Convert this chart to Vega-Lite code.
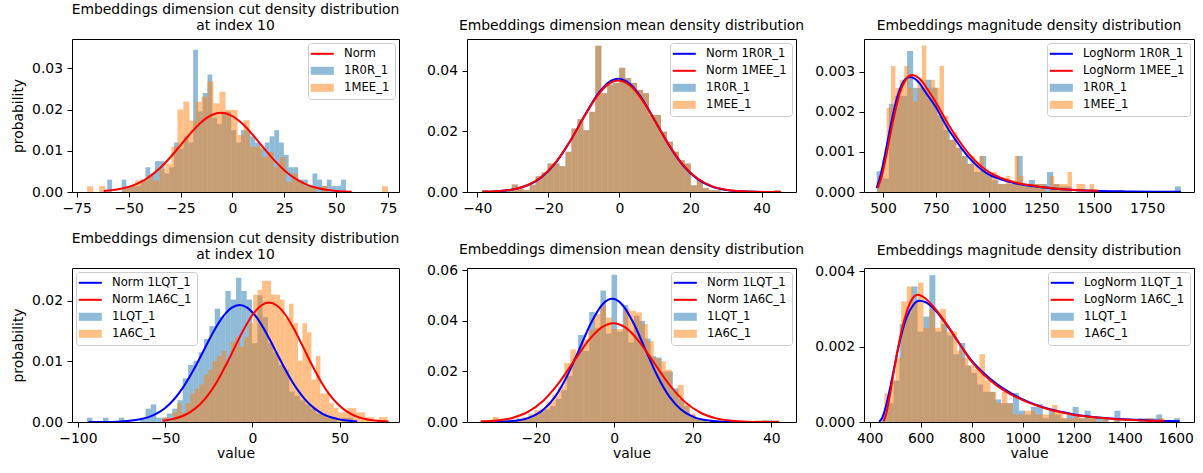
{
"$schema": "https://vega.github.io/schema/vega-lite/v6.json",
"background": "white",
"padding": {"left": 11, "top": 2, "right": 0, "bottom": 0},
"bounds": "flush",
"columns": 3,
"spacing": {"row": 76, "column": 68},
"config": {
  "font": "DejaVu Sans",
  "view": {"stroke": "#000", "strokeWidth": 1},
  "axis": {"grid": false, "domain": false, "tickColor": "#000", "tickSize": 5, "tickWidth": 1, "labelFontSize": 13.9, "labelColor": "#000", "labelFont": "DejaVu Sans", "labelPadding": 4.5, "labelFlush": false, "labelOverlap": false, "labelBound": false, "titleFontSize": 13.9, "titleFontWeight": "normal", "titleColor": "#000", "titleFont": "DejaVu Sans"},
  "axisX": {"titlePadding": 1},
  "axisY": {"titlePadding": 6},
  "title": {"fontSize": 13.9, "fontWeight": "normal", "font": "DejaVu Sans", "color": "#000", "frame": "group", "anchor": "middle", "baseline": "bottom", "offset": 6, "lineHeight": 16},
  "legend": {"padding": 5, "rowPadding": 4, "labelFontSize": 11.6, "labelFont": "DejaVu Sans", "labelColor": "#000", "symbolSize": 100, "symbolOffset": 3.5, "labelOffset": 16, "strokeColor": "#cccccc", "fillColor": "rgba(255,255,255,0.8)", "cornerRadius": 3, "symbolStrokeWidth": 0, "labelLimit": 300, "offset": 4}
},
"resolve": {"scale": {"color": "independent", "x": "independent", "y": "independent"}, "legend": {"color": "independent"}},
"datasets": {
"h": [
{"p":1,"s":"1R0R_1","a":-60.3,"b":-58,"y":0.003},
{"p":1,"s":"1R0R_1","a":-53.4,"b":-51.1,"y":0.003},
{"p":1,"s":"1R0R_1","a":-51.1,"b":-48.8,"y":0.0015},
{"p":1,"s":"1R0R_1","a":-48.8,"b":-46.5,"y":0.0015},
{"p":1,"s":"1R0R_1","a":-46.5,"b":-44.2,"y":0.0015},
{"p":1,"s":"1R0R_1","a":-44.2,"b":-41.9,"y":0.003},
{"p":1,"s":"1R0R_1","a":-41.9,"b":-39.6,"y":0.006},
{"p":1,"s":"1R0R_1","a":-39.6,"b":-37.3,"y":0.0045},
{"p":1,"s":"1R0R_1","a":-37.3,"b":-35,"y":0.0075},
{"p":1,"s":"1R0R_1","a":-35,"b":-32.7,"y":0.0075},
{"p":1,"s":"1R0R_1","a":-32.7,"b":-30.4,"y":0.0045},
{"p":1,"s":"1R0R_1","a":-30.4,"b":-28.1,"y":0.006},
{"p":1,"s":"1R0R_1","a":-28.1,"b":-25.8,"y":0.012},
{"p":1,"s":"1R0R_1","a":-25.8,"b":-23.5,"y":0.0105},
{"p":1,"s":"1R0R_1","a":-23.5,"b":-21.2,"y":0.0135},
{"p":1,"s":"1R0R_1","a":-21.2,"b":-18.9,"y":0.012},
{"p":1,"s":"1R0R_1","a":-18.9,"b":-16.6,"y":0.0345},
{"p":1,"s":"1R0R_1","a":-16.6,"b":-14.3,"y":0.0195},
{"p":1,"s":"1R0R_1","a":-14.3,"b":-12,"y":0.024},
{"p":1,"s":"1R0R_1","a":-12,"b":-9.7,"y":0.0285},
{"p":1,"s":"1R0R_1","a":-9.7,"b":-7.4,"y":0.018},
{"p":1,"s":"1R0R_1","a":-7.4,"b":-5.1,"y":0.0165},
{"p":1,"s":"1R0R_1","a":-5.1,"b":-2.8,"y":0.0195},
{"p":1,"s":"1R0R_1","a":-2.8,"b":-0.5,"y":0.0195},
{"p":1,"s":"1R0R_1","a":-0.5,"b":1.8,"y":0.015},
{"p":1,"s":"1R0R_1","a":1.8,"b":4.1,"y":0.012},
{"p":1,"s":"1R0R_1","a":4.1,"b":6.4,"y":0.015},
{"p":1,"s":"1R0R_1","a":6.4,"b":8.7,"y":0.015},
{"p":1,"s":"1R0R_1","a":8.7,"b":11,"y":0.0135},
{"p":1,"s":"1R0R_1","a":11,"b":13.3,"y":0.012},
{"p":1,"s":"1R0R_1","a":13.3,"b":15.6,"y":0.0105},
{"p":1,"s":"1R0R_1","a":15.6,"b":17.9,"y":0.012},
{"p":1,"s":"1R0R_1","a":17.9,"b":20.2,"y":0.0135},
{"p":1,"s":"1R0R_1","a":20.2,"b":22.5,"y":0.015},
{"p":1,"s":"1R0R_1","a":22.5,"b":24.8,"y":0.012},
{"p":1,"s":"1R0R_1","a":24.8,"b":27.1,"y":0.009},
{"p":1,"s":"1R0R_1","a":27.1,"b":29.4,"y":0.006},
{"p":1,"s":"1R0R_1","a":29.4,"b":31.7,"y":0.006},
{"p":1,"s":"1R0R_1","a":31.7,"b":34,"y":0.003},
{"p":1,"s":"1R0R_1","a":34,"b":36.3,"y":0.003},
{"p":1,"s":"1R0R_1","a":36.3,"b":38.6,"y":0.0015},
{"p":1,"s":"1R0R_1","a":38.6,"b":40.9,"y":0.0045},
{"p":1,"s":"1R0R_1","a":40.9,"b":43.2,"y":0.003},
{"p":1,"s":"1R0R_1","a":43.2,"b":45.5,"y":0.0015},
{"p":1,"s":"1R0R_1","a":45.5,"b":47.8,"y":0.003},
{"p":1,"s":"1R0R_1","a":47.8,"b":50.1,"y":0.0015},
{"p":1,"s":"1R0R_1","a":50.1,"b":52.4,"y":0.0015},
{"p":1,"s":"1R0R_1","a":52.4,"b":54.7,"y":0.003},
{"p":1,"s":"1MEE_1","a":-70,"b":-67.1,"y":0.0014},
{"p":1,"s":"1MEE_1","a":-64.2,"b":-61.3,"y":0.0014},
{"p":1,"s":"1MEE_1","a":-52.6,"b":-49.7,"y":0.0014},
{"p":1,"s":"1MEE_1","a":-49.7,"b":-46.8,"y":0.0014},
{"p":1,"s":"1MEE_1","a":-46.8,"b":-43.9,"y":0.0028},
{"p":1,"s":"1MEE_1","a":-43.9,"b":-41,"y":0.0028},
{"p":1,"s":"1MEE_1","a":-41,"b":-38.1,"y":0.0042},
{"p":1,"s":"1MEE_1","a":-38.1,"b":-35.2,"y":0.0028},
{"p":1,"s":"1MEE_1","a":-35.2,"b":-32.3,"y":0.0055},
{"p":1,"s":"1MEE_1","a":-32.3,"b":-29.4,"y":0.0069},
{"p":1,"s":"1MEE_1","a":-29.4,"b":-26.5,"y":0.011},
{"p":1,"s":"1MEE_1","a":-26.5,"b":-23.6,"y":0.02},
{"p":1,"s":"1MEE_1","a":-23.6,"b":-20.7,"y":0.0219},
{"p":1,"s":"1MEE_1","a":-20.7,"b":-17.8,"y":0.0173},
{"p":1,"s":"1MEE_1","a":-17.8,"b":-14.9,"y":0.0219},
{"p":1,"s":"1MEE_1","a":-14.9,"b":-12,"y":0.0231},
{"p":1,"s":"1MEE_1","a":-12,"b":-9.1,"y":0.0268},
{"p":1,"s":"1MEE_1","a":-9.1,"b":-6.2,"y":0.0215},
{"p":1,"s":"1MEE_1","a":-6.2,"b":-3.3,"y":0.0243},
{"p":1,"s":"1MEE_1","a":-3.3,"b":-0.4,"y":0.0199},
{"p":1,"s":"1MEE_1","a":-0.4,"b":2.5,"y":0.0199},
{"p":1,"s":"1MEE_1","a":2.5,"b":5.4,"y":0.0138},
{"p":1,"s":"1MEE_1","a":5.4,"b":8.3,"y":0.0174},
{"p":1,"s":"1MEE_1","a":8.3,"b":11.2,"y":0.011},
{"p":1,"s":"1MEE_1","a":11.2,"b":14.1,"y":0.011},
{"p":1,"s":"1MEE_1","a":14.1,"b":17,"y":0.0085},
{"p":1,"s":"1MEE_1","a":17,"b":19.9,"y":0.0097},
{"p":1,"s":"1MEE_1","a":19.9,"b":22.8,"y":0.0061},
{"p":1,"s":"1MEE_1","a":22.8,"b":25.7,"y":0.0085},
{"p":1,"s":"1MEE_1","a":25.7,"b":28.6,"y":0.0024},
{"p":1,"s":"1MEE_1","a":28.6,"b":31.5,"y":0.0045},
{"p":1,"s":"1MEE_1","a":31.5,"b":34.4,"y":0.0024},
{"p":1,"s":"1MEE_1","a":34.4,"b":37.3,"y":0.0014},
{"p":1,"s":"1MEE_1","a":37.3,"b":40.2,"y":0.0014},
{"p":1,"s":"1MEE_1","a":43.1,"b":46,"y":0.0014},
{"p":1,"s":"1MEE_1","a":72.1,"b":75,"y":0.0014},
{"p":2,"s":"1R0R_1","a":-38.7,"b":-37.02,"y":0.0006},
{"p":2,"s":"1R0R_1","a":-33.66,"b":-31.98,"y":0.0006},
{"p":2,"s":"1R0R_1","a":-31.98,"b":-30.3,"y":0.0006},
{"p":2,"s":"1R0R_1","a":-30.3,"b":-28.62,"y":0.0025},
{"p":2,"s":"1R0R_1","a":-28.62,"b":-26.94,"y":0.0011},
{"p":2,"s":"1R0R_1","a":-26.94,"b":-25.26,"y":0.0006},
{"p":2,"s":"1R0R_1","a":-25.26,"b":-23.58,"y":0.0024},
{"p":2,"s":"1R0R_1","a":-23.58,"b":-21.9,"y":0.0052},
{"p":2,"s":"1R0R_1","a":-21.9,"b":-20.22,"y":0.0064},
{"p":2,"s":"1R0R_1","a":-20.22,"b":-18.54,"y":0.0094},
{"p":2,"s":"1R0R_1","a":-18.54,"b":-16.86,"y":0.0094},
{"p":2,"s":"1R0R_1","a":-16.86,"b":-15.18,"y":0.0085},
{"p":2,"s":"1R0R_1","a":-15.18,"b":-13.5,"y":0.0133},
{"p":2,"s":"1R0R_1","a":-13.5,"b":-11.82,"y":0.021},
{"p":2,"s":"1R0R_1","a":-11.82,"b":-10.14,"y":0.024},
{"p":2,"s":"1R0R_1","a":-10.14,"b":-8.46,"y":0.0204},
{"p":2,"s":"1R0R_1","a":-8.46,"b":-6.78,"y":0.0265},
{"p":2,"s":"1R0R_1","a":-6.78,"b":-5.1,"y":0.0483},
{"p":2,"s":"1R0R_1","a":-5.1,"b":-3.42,"y":0.0326},
{"p":2,"s":"1R0R_1","a":-3.42,"b":-1.74,"y":0.0354},
{"p":2,"s":"1R0R_1","a":-1.74,"b":-0.06,"y":0.036},
{"p":2,"s":"1R0R_1","a":-0.06,"b":1.62,"y":0.041},
{"p":2,"s":"1R0R_1","a":1.62,"b":3.3,"y":0.0376},
{"p":2,"s":"1R0R_1","a":3.3,"b":4.98,"y":0.036},
{"p":2,"s":"1R0R_1","a":4.98,"b":6.66,"y":0.0337},
{"p":2,"s":"1R0R_1","a":6.66,"b":8.34,"y":0.0326},
{"p":2,"s":"1R0R_1","a":8.34,"b":10.02,"y":0.0254},
{"p":2,"s":"1R0R_1","a":10.02,"b":11.7,"y":0.0254},
{"p":2,"s":"1R0R_1","a":11.7,"b":13.38,"y":0.0199},
{"p":2,"s":"1R0R_1","a":13.38,"b":15.06,"y":0.0166},
{"p":2,"s":"1R0R_1","a":15.06,"b":16.74,"y":0.0133},
{"p":2,"s":"1R0R_1","a":16.74,"b":18.42,"y":0.0105},
{"p":2,"s":"1R0R_1","a":18.42,"b":20.1,"y":0.0094},
{"p":2,"s":"1R0R_1","a":20.1,"b":21.78,"y":0.0022},
{"p":2,"s":"1R0R_1","a":21.78,"b":23.46,"y":0.0039},
{"p":2,"s":"1R0R_1","a":23.46,"b":25.14,"y":0.0013},
{"p":2,"s":"1R0R_1","a":25.14,"b":26.82,"y":0.0006},
{"p":2,"s":"1R0R_1","a":26.82,"b":28.5,"y":0.0006},
{"p":2,"s":"1R0R_1","a":43.62,"b":45.3,"y":0.0006},
{"p":2,"s":"1MEE_1","a":-38.7,"b":-37.02,"y":0.0006},
{"p":2,"s":"1MEE_1","a":-33.66,"b":-31.98,"y":0.0006},
{"p":2,"s":"1MEE_1","a":-31.98,"b":-30.3,"y":0.0006},
{"p":2,"s":"1MEE_1","a":-30.3,"b":-28.62,"y":0.0025},
{"p":2,"s":"1MEE_1","a":-28.62,"b":-26.94,"y":0.0011},
{"p":2,"s":"1MEE_1","a":-26.94,"b":-25.26,"y":0.0006},
{"p":2,"s":"1MEE_1","a":-25.26,"b":-23.58,"y":0.0024},
{"p":2,"s":"1MEE_1","a":-23.58,"b":-21.9,"y":0.0052},
{"p":2,"s":"1MEE_1","a":-21.9,"b":-20.22,"y":0.0064},
{"p":2,"s":"1MEE_1","a":-20.22,"b":-18.54,"y":0.0094},
{"p":2,"s":"1MEE_1","a":-18.54,"b":-16.86,"y":0.0094},
{"p":2,"s":"1MEE_1","a":-16.86,"b":-15.18,"y":0.0085},
{"p":2,"s":"1MEE_1","a":-15.18,"b":-13.5,"y":0.0133},
{"p":2,"s":"1MEE_1","a":-13.5,"b":-11.82,"y":0.021},
{"p":2,"s":"1MEE_1","a":-11.82,"b":-10.14,"y":0.024},
{"p":2,"s":"1MEE_1","a":-10.14,"b":-8.46,"y":0.0204},
{"p":2,"s":"1MEE_1","a":-8.46,"b":-6.78,"y":0.0265},
{"p":2,"s":"1MEE_1","a":-6.78,"b":-5.1,"y":0.0483},
{"p":2,"s":"1MEE_1","a":-5.1,"b":-3.42,"y":0.0326},
{"p":2,"s":"1MEE_1","a":-3.42,"b":-1.74,"y":0.0354},
{"p":2,"s":"1MEE_1","a":-1.74,"b":-0.06,"y":0.036},
{"p":2,"s":"1MEE_1","a":-0.06,"b":1.62,"y":0.041},
{"p":2,"s":"1MEE_1","a":1.62,"b":3.3,"y":0.0376},
{"p":2,"s":"1MEE_1","a":3.3,"b":4.98,"y":0.036},
{"p":2,"s":"1MEE_1","a":4.98,"b":6.66,"y":0.0337},
{"p":2,"s":"1MEE_1","a":6.66,"b":8.34,"y":0.0326},
{"p":2,"s":"1MEE_1","a":8.34,"b":10.02,"y":0.0254},
{"p":2,"s":"1MEE_1","a":10.02,"b":11.7,"y":0.0254},
{"p":2,"s":"1MEE_1","a":11.7,"b":13.38,"y":0.0199},
{"p":2,"s":"1MEE_1","a":13.38,"b":15.06,"y":0.0166},
{"p":2,"s":"1MEE_1","a":15.06,"b":16.74,"y":0.0133},
{"p":2,"s":"1MEE_1","a":16.74,"b":18.42,"y":0.0105},
{"p":2,"s":"1MEE_1","a":18.42,"b":20.1,"y":0.0094},
{"p":2,"s":"1MEE_1","a":20.1,"b":21.78,"y":0.0022},
{"p":2,"s":"1MEE_1","a":21.78,"b":23.46,"y":0.0039},
{"p":2,"s":"1MEE_1","a":23.46,"b":25.14,"y":0.0013},
{"p":2,"s":"1MEE_1","a":25.14,"b":26.82,"y":0.0006},
{"p":2,"s":"1MEE_1","a":26.82,"b":28.5,"y":0.0006},
{"p":2,"s":"1MEE_1","a":43.62,"b":45.3,"y":0.0006},
{"p":3,"s":"1R0R_1","a":470,"b":498.8,"y":0.00052},
{"p":3,"s":"1R0R_1","a":498.8,"b":527.6,"y":0.00034},
{"p":3,"s":"1R0R_1","a":527.6,"b":556.4,"y":0.0022},
{"p":3,"s":"1R0R_1","a":556.4,"b":585.2,"y":0.0024},
{"p":3,"s":"1R0R_1","a":585.2,"b":614,"y":0.0024},
{"p":3,"s":"1R0R_1","a":614,"b":642.8,"y":0.00352},
{"p":3,"s":"1R0R_1","a":642.8,"b":671.6,"y":0.0026},
{"p":3,"s":"1R0R_1","a":671.6,"b":700.4,"y":0.0026},
{"p":3,"s":"1R0R_1","a":700.4,"b":729.2,"y":0.0028},
{"p":3,"s":"1R0R_1","a":729.2,"b":758,"y":0.0026},
{"p":3,"s":"1R0R_1","a":758,"b":786.8,"y":0.0019},
{"p":3,"s":"1R0R_1","a":786.8,"b":815.6,"y":0.00155},
{"p":3,"s":"1R0R_1","a":815.6,"b":844.4,"y":0.0013},
{"p":3,"s":"1R0R_1","a":844.4,"b":873.2,"y":0.0011},
{"p":3,"s":"1R0R_1","a":873.2,"b":902,"y":0.0009},
{"p":3,"s":"1R0R_1","a":902,"b":930.8,"y":0.0007},
{"p":3,"s":"1R0R_1","a":930.8,"b":959.6,"y":0.0005},
{"p":3,"s":"1R0R_1","a":959.6,"b":988.4,"y":0.0009},
{"p":3,"s":"1R0R_1","a":988.4,"b":1017.2,"y":0.0005},
{"p":3,"s":"1R0R_1","a":1017.2,"b":1046,"y":0.0003},
{"p":3,"s":"1R0R_1","a":1046,"b":1074.8,"y":0.0002},
{"p":3,"s":"1R0R_1","a":1074.8,"b":1103.6,"y":0.0002},
{"p":3,"s":"1R0R_1","a":1103.6,"b":1132.4,"y":0.0002},
{"p":3,"s":"1R0R_1","a":1132.4,"b":1161.2,"y":0.0009},
{"p":3,"s":"1R0R_1","a":1161.2,"b":1190,"y":0.0002},
{"p":3,"s":"1R0R_1","a":1190,"b":1218.8,"y":0.0003},
{"p":3,"s":"1R0R_1","a":1218.8,"b":1247.6,"y":0.0002},
{"p":3,"s":"1R0R_1","a":1247.6,"b":1276.4,"y":0.0002},
{"p":3,"s":"1R0R_1","a":1276.4,"b":1305.2,"y":0.0005},
{"p":3,"s":"1R0R_1","a":1305.2,"b":1334,"y":0.0002},
{"p":3,"s":"1R0R_1","a":1334,"b":1362.8,"y":0.00014},
{"p":3,"s":"1R0R_1","a":1362.8,"b":1391.6,"y":0.00014},
{"p":3,"s":"1R0R_1","a":1881.2,"b":1910,"y":0.00014},
{"p":3,"s":"1MEE_1","a":475,"b":495.9,"y":0.0004},
{"p":3,"s":"1MEE_1","a":495.9,"b":516.8,"y":0.0008},
{"p":3,"s":"1MEE_1","a":516.8,"b":537.7,"y":0.0021},
{"p":3,"s":"1MEE_1","a":537.7,"b":558.6,"y":0.00315},
{"p":3,"s":"1MEE_1","a":558.6,"b":579.5,"y":0.0026},
{"p":3,"s":"1MEE_1","a":579.5,"b":600.4,"y":0.0028},
{"p":3,"s":"1MEE_1","a":600.4,"b":621.3,"y":0.00315},
{"p":3,"s":"1MEE_1","a":621.3,"b":642.2,"y":0.0026},
{"p":3,"s":"1MEE_1","a":642.2,"b":663.1,"y":0.00226},
{"p":3,"s":"1MEE_1","a":663.1,"b":684,"y":0.0028},
{"p":3,"s":"1MEE_1","a":684,"b":704.9,"y":0.00366},
{"p":3,"s":"1MEE_1","a":704.9,"b":725.8,"y":0.0026},
{"p":3,"s":"1MEE_1","a":725.8,"b":746.7,"y":0.0028},
{"p":3,"s":"1MEE_1","a":746.7,"b":767.6,"y":0.0026},
{"p":3,"s":"1MEE_1","a":767.6,"b":788.5,"y":0.00315},
{"p":3,"s":"1MEE_1","a":788.5,"b":809.4,"y":0.0019},
{"p":3,"s":"1MEE_1","a":809.4,"b":830.3,"y":0.0013},
{"p":3,"s":"1MEE_1","a":830.3,"b":851.2,"y":0.0015},
{"p":3,"s":"1MEE_1","a":851.2,"b":872.1,"y":0.0011},
{"p":3,"s":"1MEE_1","a":872.1,"b":893,"y":0.0009},
{"p":3,"s":"1MEE_1","a":893,"b":913.9,"y":0.0007},
{"p":3,"s":"1MEE_1","a":913.9,"b":934.8,"y":0.0009},
{"p":3,"s":"1MEE_1","a":934.8,"b":955.7,"y":0.0007},
{"p":3,"s":"1MEE_1","a":955.7,"b":976.6,"y":0.0009},
{"p":3,"s":"1MEE_1","a":976.6,"b":997.5,"y":0.0005},
{"p":3,"s":"1MEE_1","a":997.5,"b":1018.4,"y":0.0004},
{"p":3,"s":"1MEE_1","a":1018.4,"b":1039.3,"y":0.0005},
{"p":3,"s":"1MEE_1","a":1039.3,"b":1060.2,"y":0.0002},
{"p":3,"s":"1MEE_1","a":1060.2,"b":1081.1,"y":0.0002},
{"p":3,"s":"1MEE_1","a":1081.1,"b":1102,"y":0.0004},
{"p":3,"s":"1MEE_1","a":1102,"b":1122.9,"y":0.0002},
{"p":3,"s":"1MEE_1","a":1122.9,"b":1143.8,"y":0.0009},
{"p":3,"s":"1MEE_1","a":1143.8,"b":1164.7,"y":0.0004},
{"p":3,"s":"1MEE_1","a":1164.7,"b":1185.6,"y":0.0002},
{"p":3,"s":"1MEE_1","a":1185.6,"b":1206.5,"y":0.0002},
{"p":3,"s":"1MEE_1","a":1206.5,"b":1227.4,"y":0.0002},
{"p":3,"s":"1MEE_1","a":1227.4,"b":1248.3,"y":0.0002},
{"p":3,"s":"1MEE_1","a":1248.3,"b":1269.2,"y":0.0002},
{"p":3,"s":"1MEE_1","a":1290.1,"b":1311,"y":0.0004},
{"p":3,"s":"1MEE_1","a":1311,"b":1331.9,"y":0.0002},
{"p":3,"s":"1MEE_1","a":1331.9,"b":1352.8,"y":0.0002},
{"p":3,"s":"1MEE_1","a":1352.8,"b":1373.7,"y":0.0002},
{"p":3,"s":"1MEE_1","a":1373.7,"b":1394.6,"y":0.0005},
{"p":3,"s":"1MEE_1","a":1415.5,"b":1436.4,"y":0.0002},
{"p":3,"s":"1MEE_1","a":1436.4,"b":1457.3,"y":0.0002},
{"p":3,"s":"1MEE_1","a":1478.2,"b":1499.1,"y":0.0002},
{"p":4,"s":"1LQT_1","a":-94.8,"b":-91.75,"y":0.0007},
{"p":4,"s":"1LQT_1","a":-85.65,"b":-82.6,"y":0.0007},
{"p":4,"s":"1LQT_1","a":-76.5,"b":-73.45,"y":0.0007},
{"p":4,"s":"1LQT_1","a":-64.3,"b":-61.25,"y":0.0007},
{"p":4,"s":"1LQT_1","a":-61.25,"b":-58.2,"y":0.0022},
{"p":4,"s":"1LQT_1","a":-58.2,"b":-55.15,"y":0.0029},
{"p":4,"s":"1LQT_1","a":-55.15,"b":-52.1,"y":0.0007},
{"p":4,"s":"1LQT_1","a":-52.1,"b":-49.05,"y":0.0007},
{"p":4,"s":"1LQT_1","a":-49.05,"b":-46,"y":0.0014},
{"p":4,"s":"1LQT_1","a":-46,"b":-42.95,"y":0.0022},
{"p":4,"s":"1LQT_1","a":-42.95,"b":-39.9,"y":0.0036},
{"p":4,"s":"1LQT_1","a":-39.9,"b":-36.85,"y":0.0072},
{"p":4,"s":"1LQT_1","a":-36.85,"b":-33.8,"y":0.0094},
{"p":4,"s":"1LQT_1","a":-33.8,"b":-30.75,"y":0.0101},
{"p":4,"s":"1LQT_1","a":-30.75,"b":-27.7,"y":0.0115},
{"p":4,"s":"1LQT_1","a":-27.7,"b":-24.65,"y":0.0137},
{"p":4,"s":"1LQT_1","a":-24.65,"b":-21.6,"y":0.0158},
{"p":4,"s":"1LQT_1","a":-21.6,"b":-18.55,"y":0.0187},
{"p":4,"s":"1LQT_1","a":-18.55,"b":-15.5,"y":0.0173},
{"p":4,"s":"1LQT_1","a":-15.5,"b":-12.45,"y":0.0216},
{"p":4,"s":"1LQT_1","a":-12.45,"b":-9.4,"y":0.0202},
{"p":4,"s":"1LQT_1","a":-9.4,"b":-6.35,"y":0.0238},
{"p":4,"s":"1LQT_1","a":-6.35,"b":-3.3,"y":0.0216},
{"p":4,"s":"1LQT_1","a":-3.3,"b":-0.25,"y":0.0202},
{"p":4,"s":"1LQT_1","a":-0.25,"b":2.8,"y":0.013},
{"p":4,"s":"1LQT_1","a":2.8,"b":5.85,"y":0.0209},
{"p":4,"s":"1LQT_1","a":5.85,"b":8.9,"y":0.0173},
{"p":4,"s":"1LQT_1","a":8.9,"b":11.95,"y":0.013},
{"p":4,"s":"1LQT_1","a":11.95,"b":15,"y":0.0115},
{"p":4,"s":"1LQT_1","a":15,"b":18.05,"y":0.0094},
{"p":4,"s":"1LQT_1","a":18.05,"b":21.1,"y":0.0086},
{"p":4,"s":"1LQT_1","a":21.1,"b":24.15,"y":0.005},
{"p":4,"s":"1LQT_1","a":24.15,"b":27.2,"y":0.0043},
{"p":4,"s":"1LQT_1","a":27.2,"b":30.25,"y":0.0036},
{"p":4,"s":"1LQT_1","a":30.25,"b":33.3,"y":0.0029},
{"p":4,"s":"1LQT_1","a":33.3,"b":36.35,"y":0.0022},
{"p":4,"s":"1LQT_1","a":36.35,"b":39.4,"y":0.0014},
{"p":4,"s":"1LQT_1","a":39.4,"b":42.45,"y":0.0014},
{"p":4,"s":"1LQT_1","a":42.45,"b":45.5,"y":0.0007},
{"p":4,"s":"1LQT_1","a":45.5,"b":48.55,"y":0.0007},
{"p":4,"s":"1LQT_1","a":51.6,"b":54.65,"y":0.0007},
{"p":4,"s":"1LQT_1","a":54.65,"b":57.7,"y":0.0007},
{"p":4,"s":"1A6C_1","a":-51,"b":-48.43,"y":0.0008},
{"p":4,"s":"1A6C_1","a":-45.86,"b":-43.29,"y":0.0016},
{"p":4,"s":"1A6C_1","a":-43.29,"b":-40.72,"y":0.0031},
{"p":4,"s":"1A6C_1","a":-40.72,"b":-38.15,"y":0.0016},
{"p":4,"s":"1A6C_1","a":-38.15,"b":-35.58,"y":0.0031},
{"p":4,"s":"1A6C_1","a":-35.58,"b":-33.01,"y":0.0047},
{"p":4,"s":"1A6C_1","a":-33.01,"b":-30.44,"y":0.0055},
{"p":4,"s":"1A6C_1","a":-30.44,"b":-27.87,"y":0.0062},
{"p":4,"s":"1A6C_1","a":-27.87,"b":-25.3,"y":0.0078},
{"p":4,"s":"1A6C_1","a":-25.3,"b":-22.73,"y":0.0086},
{"p":4,"s":"1A6C_1","a":-22.73,"b":-20.16,"y":0.0101},
{"p":4,"s":"1A6C_1","a":-20.16,"b":-17.59,"y":0.0109},
{"p":4,"s":"1A6C_1","a":-17.59,"b":-15.02,"y":0.0117},
{"p":4,"s":"1A6C_1","a":-15.02,"b":-12.45,"y":0.0101},
{"p":4,"s":"1A6C_1","a":-12.45,"b":-9.88,"y":0.0132},
{"p":4,"s":"1A6C_1","a":-9.88,"b":-7.31,"y":0.014},
{"p":4,"s":"1A6C_1","a":-7.31,"b":-4.74,"y":0.0124},
{"p":4,"s":"1A6C_1","a":-4.74,"b":-2.17,"y":0.014},
{"p":4,"s":"1A6C_1","a":-2.17,"b":0.4,"y":0.0163},
{"p":4,"s":"1A6C_1","a":0.4,"b":2.97,"y":0.021},
{"p":4,"s":"1A6C_1","a":2.97,"b":5.54,"y":0.0218},
{"p":4,"s":"1A6C_1","a":5.54,"b":8.11,"y":0.0233},
{"p":4,"s":"1A6C_1","a":8.11,"b":10.68,"y":0.0233},
{"p":4,"s":"1A6C_1","a":10.68,"b":13.25,"y":0.021},
{"p":4,"s":"1A6C_1","a":13.25,"b":15.82,"y":0.021},
{"p":4,"s":"1A6C_1","a":15.82,"b":18.39,"y":0.0202},
{"p":4,"s":"1A6C_1","a":18.39,"b":20.96,"y":0.0171},
{"p":4,"s":"1A6C_1","a":20.96,"b":23.53,"y":0.0195},
{"p":4,"s":"1A6C_1","a":23.53,"b":26.1,"y":0.0163},
{"p":4,"s":"1A6C_1","a":26.1,"b":28.67,"y":0.0101},
{"p":4,"s":"1A6C_1","a":28.67,"b":31.24,"y":0.0163},
{"p":4,"s":"1A6C_1","a":31.24,"b":33.81,"y":0.0148},
{"p":4,"s":"1A6C_1","a":33.81,"b":36.38,"y":0.007},
{"p":4,"s":"1A6C_1","a":36.38,"b":38.95,"y":0.0109},
{"p":4,"s":"1A6C_1","a":38.95,"b":41.52,"y":0.0047},
{"p":4,"s":"1A6C_1","a":41.52,"b":44.09,"y":0.0047},
{"p":4,"s":"1A6C_1","a":44.09,"b":46.66,"y":0.0031},
{"p":4,"s":"1A6C_1","a":46.66,"b":49.23,"y":0.0023},
{"p":4,"s":"1A6C_1","a":49.23,"b":51.8,"y":0.0016},
{"p":4,"s":"1A6C_1","a":51.8,"b":54.37,"y":0.0016},
{"p":4,"s":"1A6C_1","a":54.37,"b":56.94,"y":0.0023},
{"p":4,"s":"1A6C_1","a":56.94,"b":59.51,"y":0.0023},
{"p":4,"s":"1A6C_1","a":59.51,"b":62.08,"y":0.0016},
{"p":4,"s":"1A6C_1","a":62.08,"b":64.65,"y":0.0016},
{"p":4,"s":"1A6C_1","a":64.65,"b":67.22,"y":0.0008},
{"p":4,"s":"1A6C_1","a":67.22,"b":69.79,"y":0.0008},
{"p":4,"s":"1A6C_1","a":72.36,"b":74.93,"y":0.0008},
{"p":4,"s":"1A6C_1","a":74.93,"b":77.5,"y":0.0008},
{"p":5,"s":"1LQT_1","a":-30.5,"b":-29.08,"y":0.0007},
{"p":5,"s":"1LQT_1","a":-27.66,"b":-26.24,"y":0.0007},
{"p":5,"s":"1LQT_1","a":-26.24,"b":-24.82,"y":0.0007},
{"p":5,"s":"1LQT_1","a":-24.82,"b":-23.4,"y":0.0014},
{"p":5,"s":"1LQT_1","a":-23.4,"b":-21.98,"y":0.0014},
{"p":5,"s":"1LQT_1","a":-21.98,"b":-20.56,"y":0.0021},
{"p":5,"s":"1LQT_1","a":-20.56,"b":-19.14,"y":0.0028},
{"p":5,"s":"1LQT_1","a":-19.14,"b":-17.72,"y":0.0042},
{"p":5,"s":"1LQT_1","a":-17.72,"b":-16.3,"y":0.0049},
{"p":5,"s":"1LQT_1","a":-16.3,"b":-14.88,"y":0.0063},
{"p":5,"s":"1LQT_1","a":-14.88,"b":-13.46,"y":0.0091},
{"p":5,"s":"1LQT_1","a":-13.46,"b":-12.04,"y":0.0126},
{"p":5,"s":"1LQT_1","a":-12.04,"b":-10.62,"y":0.0182},
{"p":5,"s":"1LQT_1","a":-10.62,"b":-9.2,"y":0.0253},
{"p":5,"s":"1LQT_1","a":-9.2,"b":-7.78,"y":0.0344},
{"p":5,"s":"1LQT_1","a":-7.78,"b":-6.36,"y":0.0281},
{"p":5,"s":"1LQT_1","a":-6.36,"b":-4.94,"y":0.0435},
{"p":5,"s":"1LQT_1","a":-4.94,"b":-3.52,"y":0.0371},
{"p":5,"s":"1LQT_1","a":-3.52,"b":-2.1,"y":0.052},
{"p":5,"s":"1LQT_1","a":-2.1,"b":-0.68,"y":0.035},
{"p":5,"s":"1LQT_1","a":-0.68,"b":0.74,"y":0.0582},
{"p":5,"s":"1LQT_1","a":0.74,"b":2.16,"y":0.0357},
{"p":5,"s":"1LQT_1","a":2.16,"b":3.58,"y":0.0463},
{"p":5,"s":"1LQT_1","a":3.58,"b":5,"y":0.0315},
{"p":5,"s":"1LQT_1","a":5,"b":6.42,"y":0.042},
{"p":5,"s":"1LQT_1","a":6.42,"b":7.84,"y":0.04},
{"p":5,"s":"1LQT_1","a":7.84,"b":9.26,"y":0.033},
{"p":5,"s":"1LQT_1","a":9.26,"b":10.68,"y":0.026},
{"p":5,"s":"1LQT_1","a":10.68,"b":12.1,"y":0.0255},
{"p":5,"s":"1LQT_1","a":12.1,"b":13.52,"y":0.02},
{"p":5,"s":"1LQT_1","a":13.52,"b":14.94,"y":0.02},
{"p":5,"s":"1LQT_1","a":14.94,"b":16.36,"y":0.0133},
{"p":5,"s":"1LQT_1","a":16.36,"b":17.78,"y":0.0091},
{"p":5,"s":"1LQT_1","a":17.78,"b":19.2,"y":0.0063},
{"p":5,"s":"1LQT_1","a":19.2,"b":20.62,"y":0.0028},
{"p":5,"s":"1LQT_1","a":20.62,"b":22.04,"y":0.0014},
{"p":5,"s":"1LQT_1","a":22.04,"b":23.46,"y":0.0007},
{"p":5,"s":"1LQT_1","a":37.66,"b":39.08,"y":0.0007},
{"p":5,"s":"1LQT_1","a":39.08,"b":40.5,"y":0.0007},
{"p":5,"s":"1A6C_1","a":-34,"b":-32.48,"y":0.0007},
{"p":5,"s":"1A6C_1","a":-30.96,"b":-29.44,"y":0.002},
{"p":5,"s":"1A6C_1","a":-29.44,"b":-27.92,"y":0.0007},
{"p":5,"s":"1A6C_1","a":-26.4,"b":-24.88,"y":0.0007},
{"p":5,"s":"1A6C_1","a":-24.88,"b":-23.36,"y":0.0013},
{"p":5,"s":"1A6C_1","a":-23.36,"b":-21.84,"y":0.002},
{"p":5,"s":"1A6C_1","a":-21.84,"b":-20.32,"y":0.0033},
{"p":5,"s":"1A6C_1","a":-20.32,"b":-18.8,"y":0.0047},
{"p":5,"s":"1A6C_1","a":-18.8,"b":-17.28,"y":0.0053},
{"p":5,"s":"1A6C_1","a":-17.28,"b":-15.76,"y":0.008},
{"p":5,"s":"1A6C_1","a":-15.76,"b":-14.24,"y":0.0107},
{"p":5,"s":"1A6C_1","a":-14.24,"b":-12.72,"y":0.014},
{"p":5,"s":"1A6C_1","a":-12.72,"b":-11.2,"y":0.0233},
{"p":5,"s":"1A6C_1","a":-11.2,"b":-9.68,"y":0.0287},
{"p":5,"s":"1A6C_1","a":-9.68,"b":-8.16,"y":0.0267},
{"p":5,"s":"1A6C_1","a":-8.16,"b":-6.64,"y":0.0327},
{"p":5,"s":"1A6C_1","a":-6.64,"b":-5.12,"y":0.0367},
{"p":5,"s":"1A6C_1","a":-5.12,"b":-3.6,"y":0.0427},
{"p":5,"s":"1A6C_1","a":-3.6,"b":-2.08,"y":0.046},
{"p":5,"s":"1A6C_1","a":-2.08,"b":-0.56,"y":0.0413},
{"p":5,"s":"1A6C_1","a":-0.56,"b":0.96,"y":0.0367},
{"p":5,"s":"1A6C_1","a":0.96,"b":2.48,"y":0.0367},
{"p":5,"s":"1A6C_1","a":2.48,"b":4,"y":0.0447},
{"p":5,"s":"1A6C_1","a":4,"b":5.52,"y":0.044},
{"p":5,"s":"1A6C_1","a":5.52,"b":7.04,"y":0.0433},
{"p":5,"s":"1A6C_1","a":7.04,"b":8.56,"y":0.0387},
{"p":5,"s":"1A6C_1","a":8.56,"b":10.08,"y":0.032},
{"p":5,"s":"1A6C_1","a":10.08,"b":11.6,"y":0.0253},
{"p":5,"s":"1A6C_1","a":11.6,"b":13.12,"y":0.024},
{"p":5,"s":"1A6C_1","a":13.12,"b":14.64,"y":0.0207},
{"p":5,"s":"1A6C_1","a":14.64,"b":16.16,"y":0.012},
{"p":5,"s":"1A6C_1","a":16.16,"b":17.68,"y":0.0147},
{"p":5,"s":"1A6C_1","a":17.68,"b":19.2,"y":0.0073},
{"p":5,"s":"1A6C_1","a":19.2,"b":20.72,"y":0.0033},
{"p":5,"s":"1A6C_1","a":20.72,"b":22.24,"y":0.0013},
{"p":5,"s":"1A6C_1","a":22.24,"b":23.76,"y":0.0007},
{"p":5,"s":"1A6C_1","a":35.92,"b":37.44,"y":0.0007},
{"p":5,"s":"1A6C_1","a":37.44,"b":38.96,"y":0.0007},
{"p":5,"s":"1A6C_1","a":40.48,"b":42,"y":0.0007},
{"p":6,"s":"1LQT_1","a":447,"b":470.4,"y":0.0002},
{"p":6,"s":"1LQT_1","a":470.4,"b":493.8,"y":0.0005},
{"p":6,"s":"1LQT_1","a":493.8,"b":517.2,"y":0.0011},
{"p":6,"s":"1LQT_1","a":517.2,"b":540.6,"y":0.0026},
{"p":6,"s":"1LQT_1","a":540.6,"b":564,"y":0.0029},
{"p":6,"s":"1LQT_1","a":564,"b":587.4,"y":0.0036},
{"p":6,"s":"1LQT_1","a":587.4,"b":610.8,"y":0.0024},
{"p":6,"s":"1LQT_1","a":610.8,"b":634.2,"y":0.0028},
{"p":6,"s":"1LQT_1","a":634.2,"b":657.6,"y":0.0039},
{"p":6,"s":"1LQT_1","a":657.6,"b":681,"y":0.0024},
{"p":6,"s":"1LQT_1","a":681,"b":704.4,"y":0.0026},
{"p":6,"s":"1LQT_1","a":704.4,"b":727.8,"y":0.0023},
{"p":6,"s":"1LQT_1","a":727.8,"b":751.2,"y":0.0018},
{"p":6,"s":"1LQT_1","a":751.2,"b":774.6,"y":0.0021},
{"p":6,"s":"1LQT_1","a":774.6,"b":798,"y":0.0015},
{"p":6,"s":"1LQT_1","a":798,"b":821.4,"y":0.0013},
{"p":6,"s":"1LQT_1","a":821.4,"b":844.8,"y":0.001},
{"p":6,"s":"1LQT_1","a":844.8,"b":868.2,"y":0.0008},
{"p":6,"s":"1LQT_1","a":868.2,"b":891.6,"y":0.0008},
{"p":6,"s":"1LQT_1","a":891.6,"b":915,"y":0.0006},
{"p":6,"s":"1LQT_1","a":915,"b":938.4,"y":0.0005},
{"p":6,"s":"1LQT_1","a":938.4,"b":961.8,"y":0.0005},
{"p":6,"s":"1LQT_1","a":961.8,"b":985.2,"y":0.00077},
{"p":6,"s":"1LQT_1","a":985.2,"b":1008.6,"y":0.0003},
{"p":6,"s":"1LQT_1","a":1008.6,"b":1032,"y":0.0002},
{"p":6,"s":"1LQT_1","a":1032,"b":1055.4,"y":0.0004},
{"p":6,"s":"1LQT_1","a":1055.4,"b":1078.8,"y":0.00047},
{"p":6,"s":"1LQT_1","a":1078.8,"b":1102.2,"y":0.0001},
{"p":6,"s":"1LQT_1","a":1102.2,"b":1125.6,"y":0.0003},
{"p":6,"s":"1LQT_1","a":1125.6,"b":1149,"y":0.0002},
{"p":6,"s":"1LQT_1","a":1149,"b":1172.4,"y":0.0001},
{"p":6,"s":"1LQT_1","a":1172.4,"b":1195.8,"y":0.0002},
{"p":6,"s":"1LQT_1","a":1195.8,"b":1219.2,"y":0.0004},
{"p":6,"s":"1LQT_1","a":1219.2,"b":1242.6,"y":0.0001},
{"p":6,"s":"1LQT_1","a":1242.6,"b":1266,"y":0.0003},
{"p":6,"s":"1LQT_1","a":1266,"b":1289.4,"y":0.0001},
{"p":6,"s":"1LQT_1","a":1289.4,"b":1312.8,"y":0.0001},
{"p":6,"s":"1LQT_1","a":1312.8,"b":1336.2,"y":0.0001},
{"p":6,"s":"1LQT_1","a":1359.6,"b":1383,"y":0.0003},
{"p":6,"s":"1LQT_1","a":1453.2,"b":1476.6,"y":0.0001},
{"p":6,"s":"1LQT_1","a":1476.6,"b":1500,"y":0.0001},
{"p":6,"s":"1LQT_1","a":1500,"b":1523.4,"y":0.0001},
{"p":6,"s":"1LQT_1","a":1523.4,"b":1546.8,"y":0.0002},
{"p":6,"s":"1LQT_1","a":1593.6,"b":1617,"y":0.0001},
{"p":6,"s":"1A6C_1","a":458,"b":479.9,"y":0.00076},
{"p":6,"s":"1A6C_1","a":479.9,"b":501.8,"y":0.0011},
{"p":6,"s":"1A6C_1","a":501.8,"b":523.7,"y":0.0017},
{"p":6,"s":"1A6C_1","a":523.7,"b":545.6,"y":0.0032},
{"p":6,"s":"1A6C_1","a":545.6,"b":567.5,"y":0.0036},
{"p":6,"s":"1A6C_1","a":567.5,"b":589.4,"y":0.0032},
{"p":6,"s":"1A6C_1","a":589.4,"b":611.3,"y":0.0037},
{"p":6,"s":"1A6C_1","a":611.3,"b":633.2,"y":0.0025},
{"p":6,"s":"1A6C_1","a":633.2,"b":655.1,"y":0.003},
{"p":6,"s":"1A6C_1","a":655.1,"b":677,"y":0.0025},
{"p":6,"s":"1A6C_1","a":677,"b":698.9,"y":0.003},
{"p":6,"s":"1A6C_1","a":698.9,"b":720.8,"y":0.0024},
{"p":6,"s":"1A6C_1","a":720.8,"b":742.7,"y":0.0024},
{"p":6,"s":"1A6C_1","a":742.7,"b":764.6,"y":0.0019},
{"p":6,"s":"1A6C_1","a":764.6,"b":786.5,"y":0.0017},
{"p":6,"s":"1A6C_1","a":786.5,"b":808.4,"y":0.0015},
{"p":6,"s":"1A6C_1","a":808.4,"b":830.3,"y":0.0014},
{"p":6,"s":"1A6C_1","a":830.3,"b":852.2,"y":0.0018},
{"p":6,"s":"1A6C_1","a":852.2,"b":874.1,"y":0.0011},
{"p":6,"s":"1A6C_1","a":874.1,"b":896,"y":0.0008},
{"p":6,"s":"1A6C_1","a":896,"b":917.9,"y":0.0005},
{"p":6,"s":"1A6C_1","a":917.9,"b":939.8,"y":0.0008},
{"p":6,"s":"1A6C_1","a":939.8,"b":961.7,"y":0.0005},
{"p":6,"s":"1A6C_1","a":961.7,"b":983.6,"y":0.0002},
{"p":6,"s":"1A6C_1","a":983.6,"b":1005.5,"y":0.0002},
{"p":6,"s":"1A6C_1","a":1005.5,"b":1027.4,"y":0.0003},
{"p":6,"s":"1A6C_1","a":1027.4,"b":1049.3,"y":0.0003},
{"p":6,"s":"1A6C_1","a":1049.3,"b":1071.2,"y":0.0002},
{"p":6,"s":"1A6C_1","a":1071.2,"b":1093.1,"y":0.0002},
{"p":6,"s":"1A6C_1","a":1093.1,"b":1115,"y":0.0002},
{"p":6,"s":"1A6C_1","a":1115,"b":1136.9,"y":0.00045},
{"p":6,"s":"1A6C_1","a":1136.9,"b":1158.8,"y":0.00027},
{"p":6,"s":"1A6C_1","a":1158.8,"b":1180.7,"y":0.0001},
{"p":6,"s":"1A6C_1","a":1180.7,"b":1202.6,"y":0.0001},
{"p":6,"s":"1A6C_1","a":1202.6,"b":1224.5,"y":0.0002},
{"p":6,"s":"1A6C_1","a":1224.5,"b":1246.4,"y":0.0001},
{"p":6,"s":"1A6C_1","a":1246.4,"b":1268.3,"y":0.0001},
{"p":6,"s":"1A6C_1","a":1268.3,"b":1290.2,"y":0.0001},
{"p":6,"s":"1A6C_1","a":1312.1,"b":1334,"y":0.0001},
{"p":6,"s":"1A6C_1","a":1355.9,"b":1377.8,"y":0.0001},
{"p":6,"s":"1A6C_1","a":1487.3,"b":1509.2,"y":0.0001},
{"p":6,"s":"1A6C_1","a":1531.1,"b":1553,"y":0.0001}
],
"c": [
{"p":1,"s":"Norm","x":-62,"y":0.00023},{"p":1,"s":"Norm","x":-55,"y":0.00065},{"p":1,"s":"Norm","x":-50,"y":0.00124},{"p":1,"s":"Norm","x":-45,"y":0.00221},{"p":1,"s":"Norm","x":-40,"y":0.0037},{"p":1,"s":"Norm","x":-35,"y":0.00575},{"p":1,"s":"Norm","x":-30,"y":0.00836},{"p":1,"s":"Norm","x":-25,"y":0.01133},{"p":1,"s":"Norm","x":-20,"y":0.01435},{"p":1,"s":"Norm","x":-15,"y":0.01694},{"p":1,"s":"Norm","x":-10,"y":0.01867},{"p":1,"s":"Norm","x":-5.5,"y":0.0192},{"p":1,"s":"Norm","x":0,"y":0.01841},{"p":1,"s":"Norm","x":5,"y":0.01648},{"p":1,"s":"Norm","x":10,"y":0.01376},{"p":1,"s":"Norm","x":15,"y":0.01073},{"p":1,"s":"Norm","x":20,"y":0.0078},{"p":1,"s":"Norm","x":25,"y":0.0053},{"p":1,"s":"Norm","x":30,"y":0.00335},{"p":1,"s":"Norm","x":35,"y":0.00198},{"p":1,"s":"Norm","x":40,"y":0.00109},{"p":1,"s":"Norm","x":45,"y":0.00056},{"p":1,"s":"Norm","x":50,"y":0.00027},{"p":1,"s":"Norm","x":57.5,"y":0.00008},
{"p":2,"s":"Norm 1R0R_1","x":-38.5,"y":0.00006},{"p":2,"s":"Norm 1R0R_1","x":-34,"y":0.00026},{"p":2,"s":"Norm 1R0R_1","x":-30,"y":0.0008},{"p":2,"s":"Norm 1R0R_1","x":-26,"y":0.00209},{"p":2,"s":"Norm 1R0R_1","x":-22,"y":0.00479},{"p":2,"s":"Norm 1R0R_1","x":-18,"y":0.00953},{"p":2,"s":"Norm 1R0R_1","x":-14,"y":0.01648},{"p":2,"s":"Norm 1R0R_1","x":-10,"y":0.0248},{"p":2,"s":"Norm 1R0R_1","x":-6,"y":0.03245},{"p":2,"s":"Norm 1R0R_1","x":-3,"y":0.03624},{"p":2,"s":"Norm 1R0R_1","x":-0.3,"y":0.0374},{"p":2,"s":"Norm 1R0R_1","x":3,"y":0.03566},{"p":2,"s":"Norm 1R0R_1","x":6,"y":0.03145},{"p":2,"s":"Norm 1R0R_1","x":10,"y":0.02354},{"p":2,"s":"Norm 1R0R_1","x":14,"y":0.01531},{"p":2,"s":"Norm 1R0R_1","x":18,"y":0.00867},{"p":2,"s":"Norm 1R0R_1","x":22,"y":0.00426},{"p":2,"s":"Norm 1R0R_1","x":26,"y":0.00182},{"p":2,"s":"Norm 1R0R_1","x":30,"y":0.00068},{"p":2,"s":"Norm 1R0R_1","x":34,"y":0.00022},{"p":2,"s":"Norm 1R0R_1","x":38,"y":0.00006},{"p":2,"s":"Norm 1R0R_1","x":45.5,"y":0.00001},
{"p":2,"s":"Norm 1MEE_1","x":-38.5,"y":0.000075},{"p":2,"s":"Norm 1MEE_1","x":-34,"y":0.000295},{"p":2,"s":"Norm 1MEE_1","x":-30,"y":0.00087},{"p":2,"s":"Norm 1MEE_1","x":-26,"y":0.00222},{"p":2,"s":"Norm 1MEE_1","x":-22,"y":0.00498},{"p":2,"s":"Norm 1MEE_1","x":-18,"y":0.00973},{"p":2,"s":"Norm 1MEE_1","x":-14,"y":0.01658},{"p":2,"s":"Norm 1MEE_1","x":-10,"y":0.02466},{"p":2,"s":"Norm 1MEE_1","x":-6,"y":0.03206},{"p":2,"s":"Norm 1MEE_1","x":-3,"y":0.03568},{"p":2,"s":"Norm 1MEE_1","x":-0.3,"y":0.0368},{"p":2,"s":"Norm 1MEE_1","x":3,"y":0.03514},{"p":2,"s":"Norm 1MEE_1","x":6,"y":0.03109},{"p":2,"s":"Norm 1MEE_1","x":10,"y":0.02346},{"p":2,"s":"Norm 1MEE_1","x":14,"y":0.01544},{"p":2,"s":"Norm 1MEE_1","x":18,"y":0.00887},{"p":2,"s":"Norm 1MEE_1","x":22,"y":0.00445},{"p":2,"s":"Norm 1MEE_1","x":26,"y":0.00195},{"p":2,"s":"Norm 1MEE_1","x":30,"y":0.00074},{"p":2,"s":"Norm 1MEE_1","x":34,"y":0.00025},{"p":2,"s":"Norm 1MEE_1","x":38,"y":0.00007},{"p":2,"s":"Norm 1MEE_1","x":45.5,"y":0.00001},
{"p":3,"s":"LogNorm 1R0R_1","x":470,"y":0.0001},{"p":3,"s":"LogNorm 1R0R_1","x":490,"y":0.00045},{"p":3,"s":"LogNorm 1R0R_1","x":510,"y":0.00095},{"p":3,"s":"LogNorm 1R0R_1","x":530,"y":0.0015},{"p":3,"s":"LogNorm 1R0R_1","x":550,"y":0.002},{"p":3,"s":"LogNorm 1R0R_1","x":575,"y":0.0025},{"p":3,"s":"LogNorm 1R0R_1","x":600,"y":0.00278},{"p":3,"s":"LogNorm 1R0R_1","x":625,"y":0.00287},{"p":3,"s":"LogNorm 1R0R_1","x":650,"y":0.00283},{"p":3,"s":"LogNorm 1R0R_1","x":675,"y":0.0027},{"p":3,"s":"LogNorm 1R0R_1","x":700,"y":0.0025},{"p":3,"s":"LogNorm 1R0R_1","x":750,"y":0.00212},{"p":3,"s":"LogNorm 1R0R_1","x":800,"y":0.00165},{"p":3,"s":"LogNorm 1R0R_1","x":850,"y":0.00125},{"p":3,"s":"LogNorm 1R0R_1","x":900,"y":0.0009},{"p":3,"s":"LogNorm 1R0R_1","x":950,"y":0.00063},{"p":3,"s":"LogNorm 1R0R_1","x":1000,"y":0.00044},{"p":3,"s":"LogNorm 1R0R_1","x":1050,"y":0.00033},{"p":3,"s":"LogNorm 1R0R_1","x":1100,"y":0.00025},{"p":3,"s":"LogNorm 1R0R_1","x":1150,"y":0.00019},{"p":3,"s":"LogNorm 1R0R_1","x":1200,"y":0.00015},{"p":3,"s":"LogNorm 1R0R_1","x":1250,"y":0.00012},{"p":3,"s":"LogNorm 1R0R_1","x":1300,"y":0.00009},{"p":3,"s":"LogNorm 1R0R_1","x":1400,"y":0.00005},{"p":3,"s":"LogNorm 1R0R_1","x":1500,"y":0.00003},{"p":3,"s":"LogNorm 1R0R_1","x":1650,"y":0.000015},{"p":3,"s":"LogNorm 1R0R_1","x":1800,"y":0.000007},{"p":3,"s":"LogNorm 1R0R_1","x":1910,"y":0.000004},
{"p":3,"s":"LogNorm 1MEE_1","x":475,"y":0.0001},{"p":3,"s":"LogNorm 1MEE_1","x":495,"y":0.00042},{"p":3,"s":"LogNorm 1MEE_1","x":515,"y":0.0009},{"p":3,"s":"LogNorm 1MEE_1","x":535,"y":0.00145},{"p":3,"s":"LogNorm 1MEE_1","x":555,"y":0.00195},{"p":3,"s":"LogNorm 1MEE_1","x":580,"y":0.00248},{"p":3,"s":"LogNorm 1MEE_1","x":610,"y":0.00282},{"p":3,"s":"LogNorm 1MEE_1","x":637,"y":0.00292},{"p":3,"s":"LogNorm 1MEE_1","x":660,"y":0.00288},{"p":3,"s":"LogNorm 1MEE_1","x":685,"y":0.00276},{"p":3,"s":"LogNorm 1MEE_1","x":710,"y":0.00257},{"p":3,"s":"LogNorm 1MEE_1","x":760,"y":0.00215},{"p":3,"s":"LogNorm 1MEE_1","x":810,"y":0.00168},{"p":3,"s":"LogNorm 1MEE_1","x":860,"y":0.00128},{"p":3,"s":"LogNorm 1MEE_1","x":910,"y":0.00093},{"p":3,"s":"LogNorm 1MEE_1","x":960,"y":0.00066},{"p":3,"s":"LogNorm 1MEE_1","x":1010,"y":0.00047},{"p":3,"s":"LogNorm 1MEE_1","x":1060,"y":0.00035},{"p":3,"s":"LogNorm 1MEE_1","x":1110,"y":0.00026},{"p":3,"s":"LogNorm 1MEE_1","x":1160,"y":0.0002},{"p":3,"s":"LogNorm 1MEE_1","x":1210,"y":0.00016},{"p":3,"s":"LogNorm 1MEE_1","x":1260,"y":0.00012},{"p":3,"s":"LogNorm 1MEE_1","x":1310,"y":0.00009},{"p":3,"s":"LogNorm 1MEE_1","x":1410,"y":0.00005},{"p":3,"s":"LogNorm 1MEE_1","x":1520,"y":0.00003},
{"p":4,"s":"Norm 1LQT_1","x":-94,"y":0.000003},{"p":4,"s":"Norm 1LQT_1","x":-85,"y":0.000017},{"p":4,"s":"Norm 1LQT_1","x":-75,"y":0.000093},{"p":4,"s":"Norm 1LQT_1","x":-65,"y":0.0004},{"p":4,"s":"Norm 1LQT_1","x":-60,"y":0.00076},{"p":4,"s":"Norm 1LQT_1","x":-55,"y":0.00137},{"p":4,"s":"Norm 1LQT_1","x":-50,"y":0.00232},{"p":4,"s":"Norm 1LQT_1","x":-45,"y":0.00371},{"p":4,"s":"Norm 1LQT_1","x":-40,"y":0.00558},{"p":4,"s":"Norm 1LQT_1","x":-35,"y":0.00794},{"p":4,"s":"Norm 1LQT_1","x":-30,"y":0.01063},{"p":4,"s":"Norm 1LQT_1","x":-25,"y":0.01345},{"p":4,"s":"Norm 1LQT_1","x":-21,"y":0.01555},{"p":4,"s":"Norm 1LQT_1","x":-17,"y":0.01733},{"p":4,"s":"Norm 1LQT_1","x":-12,"y":0.01883},{"p":4,"s":"Norm 1LQT_1","x":-7.4,"y":0.0193},{"p":4,"s":"Norm 1LQT_1","x":-3,"y":0.01887},{"p":4,"s":"Norm 1LQT_1","x":2,"y":0.01741},{"p":4,"s":"Norm 1LQT_1","x":6,"y":0.01565},{"p":4,"s":"Norm 1LQT_1","x":10,"y":0.01356},{"p":4,"s":"Norm 1LQT_1","x":15,"y":0.01075},{"p":4,"s":"Norm 1LQT_1","x":20,"y":0.00804},{"p":4,"s":"Norm 1LQT_1","x":25,"y":0.00567},{"p":4,"s":"Norm 1LQT_1","x":30,"y":0.00377},{"p":4,"s":"Norm 1LQT_1","x":35,"y":0.00237},{"p":4,"s":"Norm 1LQT_1","x":40,"y":0.0014},{"p":4,"s":"Norm 1LQT_1","x":45,"y":0.00078},{"p":4,"s":"Norm 1LQT_1","x":50,"y":0.00041},{"p":4,"s":"Norm 1LQT_1","x":60,"y":0.000096},
{"p":4,"s":"Norm 1A6C_1","x":-51.5,"y":0.00021},{"p":4,"s":"Norm 1A6C_1","x":-45,"y":0.00053},{"p":4,"s":"Norm 1A6C_1","x":-40,"y":0.00099},{"p":4,"s":"Norm 1A6C_1","x":-35,"y":0.00176},{"p":4,"s":"Norm 1A6C_1","x":-30,"y":0.00294},{"p":4,"s":"Norm 1A6C_1","x":-25,"y":0.00461},{"p":4,"s":"Norm 1A6C_1","x":-20,"y":0.00682},{"p":4,"s":"Norm 1A6C_1","x":-15,"y":0.00948},{"p":4,"s":"Norm 1A6C_1","x":-10,"y":0.01239},{"p":4,"s":"Norm 1A6C_1","x":-5,"y":0.01524},{"p":4,"s":"Norm 1A6C_1","x":0,"y":0.01765},{"p":4,"s":"Norm 1A6C_1","x":5,"y":0.01922},{"p":4,"s":"Norm 1A6C_1","x":9.5,"y":0.0197},{"p":4,"s":"Norm 1A6C_1","x":14,"y":0.01922},{"p":4,"s":"Norm 1A6C_1","x":19,"y":0.01765},{"p":4,"s":"Norm 1A6C_1","x":24,"y":0.01524},{"p":4,"s":"Norm 1A6C_1","x":29,"y":0.01239},{"p":4,"s":"Norm 1A6C_1","x":34,"y":0.00948},{"p":4,"s":"Norm 1A6C_1","x":39,"y":0.00682},{"p":4,"s":"Norm 1A6C_1","x":44,"y":0.00461},{"p":4,"s":"Norm 1A6C_1","x":49,"y":0.00294},{"p":4,"s":"Norm 1A6C_1","x":54,"y":0.00176},{"p":4,"s":"Norm 1A6C_1","x":59,"y":0.00099},{"p":4,"s":"Norm 1A6C_1","x":64,"y":0.00053},{"p":4,"s":"Norm 1A6C_1","x":70,"y":0.00023},{"p":4,"s":"Norm 1A6C_1","x":78,"y":0.000064},
{"p":5,"s":"Norm 1LQT_1","x":-30.5,"y":0.00006},{"p":5,"s":"Norm 1LQT_1","x":-26,"y":0.00038},{"p":5,"s":"Norm 1LQT_1","x":-22,"y":0.00155},{"p":5,"s":"Norm 1LQT_1","x":-18,"y":0.00497},{"p":5,"s":"Norm 1LQT_1","x":-15,"y":0.01016},{"p":5,"s":"Norm 1LQT_1","x":-12,"y":0.01818},{"p":5,"s":"Norm 1LQT_1","x":-9,"y":0.02843},{"p":5,"s":"Norm 1LQT_1","x":-6,"y":0.03887},{"p":5,"s":"Norm 1LQT_1","x":-3,"y":0.04648},{"p":5,"s":"Norm 1LQT_1","x":-0.5,"y":0.0487},{"p":5,"s":"Norm 1LQT_1","x":2,"y":0.04648},{"p":5,"s":"Norm 1LQT_1","x":5,"y":0.03887},{"p":5,"s":"Norm 1LQT_1","x":8,"y":0.02843},{"p":5,"s":"Norm 1LQT_1","x":11,"y":0.01818},{"p":5,"s":"Norm 1LQT_1","x":14,"y":0.01016},{"p":5,"s":"Norm 1LQT_1","x":17,"y":0.00497},{"p":5,"s":"Norm 1LQT_1","x":20,"y":0.00213},{"p":5,"s":"Norm 1LQT_1","x":24,"y":0.00056},{"p":5,"s":"Norm 1LQT_1","x":28,"y":0.00011},{"p":5,"s":"Norm 1LQT_1","x":34,"y":0.000007},{"p":5,"s":"Norm 1LQT_1","x":40,"y":0.0000005},
{"p":5,"s":"Norm 1A6C_1","x":-34,"y":0.00016},{"p":5,"s":"Norm 1A6C_1","x":-30,"y":0.00055},{"p":5,"s":"Norm 1A6C_1","x":-26,"y":0.0016},{"p":5,"s":"Norm 1A6C_1","x":-22,"y":0.00398},{"p":5,"s":"Norm 1A6C_1","x":-18,"y":0.00853},{"p":5,"s":"Norm 1A6C_1","x":-14,"y":0.01565},{"p":5,"s":"Norm 1A6C_1","x":-10,"y":0.02464},{"p":5,"s":"Norm 1A6C_1","x":-6,"y":0.03326},{"p":5,"s":"Norm 1A6C_1","x":-3,"y":0.03765},{"p":5,"s":"Norm 1A6C_1","x":-0.2,"y":0.0391},{"p":5,"s":"Norm 1A6C_1","x":3,"y":0.03722},{"p":5,"s":"Norm 1A6C_1","x":6,"y":0.0325},{"p":5,"s":"Norm 1A6C_1","x":10,"y":0.02371},{"p":5,"s":"Norm 1A6C_1","x":14,"y":0.01483},{"p":5,"s":"Norm 1A6C_1","x":18,"y":0.00796},{"p":5,"s":"Norm 1A6C_1","x":22,"y":0.00366},{"p":5,"s":"Norm 1A6C_1","x":26,"y":0.00144},{"p":5,"s":"Norm 1A6C_1","x":30,"y":0.00049},{"p":5,"s":"Norm 1A6C_1","x":34,"y":0.00014},{"p":5,"s":"Norm 1A6C_1","x":38,"y":0.00004},{"p":5,"s":"Norm 1A6C_1","x":42,"y":0.00001},
{"p":6,"s":"LogNorm 1LQT_1","x":437,"y":0.000005},{"p":6,"s":"LogNorm 1LQT_1","x":450,"y":0.00012},{"p":6,"s":"LogNorm 1LQT_1","x":465,"y":0.00045},{"p":6,"s":"LogNorm 1LQT_1","x":480,"y":0.0009},{"p":6,"s":"LogNorm 1LQT_1","x":495,"y":0.0014},{"p":6,"s":"LogNorm 1LQT_1","x":510,"y":0.0019},{"p":6,"s":"LogNorm 1LQT_1","x":525,"y":0.00234},{"p":6,"s":"LogNorm 1LQT_1","x":545,"y":0.00278},{"p":6,"s":"LogNorm 1LQT_1","x":570,"y":0.0031},{"p":6,"s":"LogNorm 1LQT_1","x":595,"y":0.00322},{"p":6,"s":"LogNorm 1LQT_1","x":620,"y":0.00318},{"p":6,"s":"LogNorm 1LQT_1","x":650,"y":0.00302},{"p":6,"s":"LogNorm 1LQT_1","x":700,"y":0.0026},{"p":6,"s":"LogNorm 1LQT_1","x":750,"y":0.0021},{"p":6,"s":"LogNorm 1LQT_1","x":800,"y":0.00163},{"p":6,"s":"LogNorm 1LQT_1","x":850,"y":0.00128},{"p":6,"s":"LogNorm 1LQT_1","x":900,"y":0.001},{"p":6,"s":"LogNorm 1LQT_1","x":950,"y":0.00078},{"p":6,"s":"LogNorm 1LQT_1","x":1000,"y":0.0006},{"p":6,"s":"LogNorm 1LQT_1","x":1050,"y":0.00046},{"p":6,"s":"LogNorm 1LQT_1","x":1100,"y":0.00035},{"p":6,"s":"LogNorm 1LQT_1","x":1150,"y":0.00027},{"p":6,"s":"LogNorm 1LQT_1","x":1200,"y":0.0002},{"p":6,"s":"LogNorm 1LQT_1","x":1300,"y":0.00012},{"p":6,"s":"LogNorm 1LQT_1","x":1400,"y":0.00007},{"p":6,"s":"LogNorm 1LQT_1","x":1500,"y":0.00004},{"p":6,"s":"LogNorm 1LQT_1","x":1615,"y":0.00002},
{"p":6,"s":"LogNorm 1A6C_1","x":455,"y":0.00002},{"p":6,"s":"LogNorm 1A6C_1","x":465,"y":0.00022},{"p":6,"s":"LogNorm 1A6C_1","x":480,"y":0.00075},{"p":6,"s":"LogNorm 1A6C_1","x":495,"y":0.00135},{"p":6,"s":"LogNorm 1A6C_1","x":510,"y":0.00192},{"p":6,"s":"LogNorm 1A6C_1","x":525,"y":0.00242},{"p":6,"s":"LogNorm 1A6C_1","x":545,"y":0.00292},{"p":6,"s":"LogNorm 1A6C_1","x":565,"y":0.00325},{"p":6,"s":"LogNorm 1A6C_1","x":589,"y":0.00338},{"p":6,"s":"LogNorm 1A6C_1","x":615,"y":0.0033},{"p":6,"s":"LogNorm 1A6C_1","x":645,"y":0.0031},{"p":6,"s":"LogNorm 1A6C_1","x":700,"y":0.00262},{"p":6,"s":"LogNorm 1A6C_1","x":750,"y":0.0021},{"p":6,"s":"LogNorm 1A6C_1","x":800,"y":0.0016},{"p":6,"s":"LogNorm 1A6C_1","x":850,"y":0.00124},{"p":6,"s":"LogNorm 1A6C_1","x":900,"y":0.00096},{"p":6,"s":"LogNorm 1A6C_1","x":950,"y":0.00075},{"p":6,"s":"LogNorm 1A6C_1","x":1000,"y":0.00058},{"p":6,"s":"LogNorm 1A6C_1","x":1050,"y":0.00045},{"p":6,"s":"LogNorm 1A6C_1","x":1100,"y":0.00034},{"p":6,"s":"LogNorm 1A6C_1","x":1150,"y":0.00026},{"p":6,"s":"LogNorm 1A6C_1","x":1200,"y":0.00019},{"p":6,"s":"LogNorm 1A6C_1","x":1300,"y":0.00011},{"p":6,"s":"LogNorm 1A6C_1","x":1400,"y":0.00006},{"p":6,"s":"LogNorm 1A6C_1","x":1555,"y":0.00003}
]
},
"concat": [
 {"width": 327, "height": 153, "title": {"text": ["Embeddings dimension cut density distribution", "at index 10"]},
  "layer": [
   {"data": {"name": "h"}, "transform": [{"filter": "datum.p == 1"}], "mark": {"type": "rect", "clip": true},
    "encoding": {
     "x": {"field": "a", "type": "quantitative", "title": null, "scale": {"domain": [-77.3, 80.3], "nice": false, "zero": false}, "axis": {"values": [-75, -50, -25, 0, 25, 50, 75]}},
     "x2": {"field": "b"},
     "y": {"field": "y", "type": "quantitative", "title": "probability", "scale": {"domain": [0, 0.0371], "nice": false}, "axis": {"values": [0, 0.01, 0.02, 0.03], "format": ".2f"}},
     "y2": {"datum": 0},
     "color": {"field": "s", "type": "nominal", "title": null, "scale": {"domain": ["Norm", "1R0R_1", "1MEE_1"], "range": ["#ff0000", "rgba(31,119,180,0.5)", "rgba(255,127,14,0.5)"]},
      "legend": {"orient": "top-right", "title": null, "encoding": {"symbols": {
        "shape": {"value": {"expr": "indexof(datum.value,'Norm')>=0 ? 'M-2.3,-0.2H2.3V0.2H-2.3Z' : 'M-2.3,-0.8H2.3V0.8H-2.3Z'"}},
        "opacity": {"value": 1}}}}}
    }},
   {"data": {"name": "c"}, "transform": [{"filter": "datum.p == 1"}], "mark": {"type": "line", "strokeWidth": 2, "interpolate": "monotone", "clip": true},
    "encoding": {
     "x": {"field": "x", "type": "quantitative", "title": null},
     "y": {"field": "y", "type": "quantitative", "title": "probability"},
     "color": {"field": "s", "type": "nominal", "title": null}
    }}
  ]},
 {"width": 329, "height": 153, "title": {"text": "Embeddings dimension mean density distribution"},
  "layer": [
   {"data": {"name": "h"}, "transform": [{"filter": "datum.p == 2"}], "mark": {"type": "rect", "clip": true},
    "encoding": {
     "x": {"field": "a", "type": "quantitative", "title": null, "scale": {"domain": [-42.9, 49.7], "nice": false, "zero": false}, "axis": {"values": [-40, -20, 0, 20, 40]}},
     "x2": {"field": "b"},
     "y": {"field": "y", "type": "quantitative", "title": null, "scale": {"domain": [0, 0.0505], "nice": false}, "axis": {"values": [0, 0.02, 0.04], "format": ".2f"}},
     "y2": {"datum": 0},
     "color": {"field": "s", "type": "nominal", "title": null, "scale": {"domain": ["Norm 1R0R_1", "Norm 1MEE_1", "1R0R_1", "1MEE_1"], "range": ["#0000ff", "#ff0000", "rgba(31,119,180,0.5)", "rgba(255,127,14,0.5)"]},
      "legend": {"orient": "top-right", "title": null, "encoding": {"symbols": {
        "shape": {"value": {"expr": "indexof(datum.value,'Norm')>=0 ? 'M-2.3,-0.2H2.3V0.2H-2.3Z' : 'M-2.3,-0.8H2.3V0.8H-2.3Z'"}},
        "opacity": {"value": 1}}}}}
    }},
   {"data": {"name": "c"}, "transform": [{"filter": "datum.p == 2"}], "mark": {"type": "line", "strokeWidth": 2, "interpolate": "monotone", "clip": true},
    "encoding": {
     "x": {"field": "x", "type": "quantitative", "title": null},
     "y": {"field": "y", "type": "quantitative", "title": null},
     "color": {"field": "s", "type": "nominal", "title": null}
    }}
  ]},
 {"width": 330, "height": 153, "title": {"text": "Embeddings magnitude density distribution"},
  "layer": [
   {"data": {"name": "h"}, "transform": [{"filter": "datum.p == 3"}], "mark": {"type": "rect", "clip": true},
    "encoding": {
     "x": {"field": "a", "type": "quantitative", "title": null, "scale": {"domain": [410, 1972], "nice": false, "zero": false}, "axis": {"values": [500, 750, 1000, 1250, 1500, 1750], "format": "d"}},
     "x2": {"field": "b"},
     "y": {"field": "y", "type": "quantitative", "title": null, "scale": {"domain": [0, 0.00382], "nice": false}, "axis": {"values": [0, 0.001, 0.002, 0.003], "format": ".3f"}},
     "y2": {"datum": 0},
     "color": {"field": "s", "type": "nominal", "title": null, "scale": {"domain": ["LogNorm 1R0R_1", "LogNorm 1MEE_1", "1R0R_1", "1MEE_1"], "range": ["#0000ff", "#ff0000", "rgba(31,119,180,0.5)", "rgba(255,127,14,0.5)"]},
      "legend": {"orient": "top-right", "title": null, "encoding": {"symbols": {
        "shape": {"value": {"expr": "indexof(datum.value,'Norm')>=0 ? 'M-2.3,-0.2H2.3V0.2H-2.3Z' : 'M-2.3,-0.8H2.3V0.8H-2.3Z'"}},
        "opacity": {"value": 1}}}}}
    }},
   {"data": {"name": "c"}, "transform": [{"filter": "datum.p == 3"}], "mark": {"type": "line", "strokeWidth": 2, "interpolate": "monotone", "clip": true},
    "encoding": {
     "x": {"field": "x", "type": "quantitative", "title": null},
     "y": {"field": "y", "type": "quantitative", "title": null},
     "color": {"field": "s", "type": "nominal", "title": null}
    }}
  ]},
 {"width": 327, "height": 154, "title": {"text": ["Embeddings dimension cut density distribution", "at index 10"]},
  "layer": [
   {"data": {"name": "h"}, "transform": [{"filter": "datum.p == 4"}], "mark": {"type": "rect", "clip": true},
    "encoding": {
     "x": {"field": "a", "type": "quantitative", "title": "value", "scale": {"domain": [-103.4, 84], "nice": false, "zero": false}, "axis": {"values": [-100, -50, 0, 50]}},
     "x2": {"field": "b"},
     "y": {"field": "y", "type": "quantitative", "title": "probability", "scale": {"domain": [0, 0.0254], "nice": false}, "axis": {"values": [0, 0.01, 0.02], "format": ".2f"}},
     "y2": {"datum": 0},
     "color": {"field": "s", "type": "nominal", "title": null, "scale": {"domain": ["Norm 1LQT_1", "Norm 1A6C_1", "1LQT_1", "1A6C_1"], "range": ["#0000ff", "#ff0000", "rgba(31,119,180,0.5)", "rgba(255,127,14,0.5)"]},
      "legend": {"orient": "top-left", "title": null, "encoding": {"symbols": {
        "shape": {"value": {"expr": "indexof(datum.value,'Norm')>=0 ? 'M-2.3,-0.2H2.3V0.2H-2.3Z' : 'M-2.3,-0.8H2.3V0.8H-2.3Z'"}},
        "opacity": {"value": 1}}}}}
    }},
   {"data": {"name": "c"}, "transform": [{"filter": "datum.p == 4"}], "mark": {"type": "line", "strokeWidth": 2, "interpolate": "monotone", "clip": true},
    "encoding": {
     "x": {"field": "x", "type": "quantitative", "title": "value"},
     "y": {"field": "y", "type": "quantitative", "title": "probability"},
     "color": {"field": "s", "type": "nominal", "title": null}
    }}
  ]},
 {"width": 329, "height": 154, "title": {"text": "Embeddings dimension mean density distribution"},
  "layer": [
   {"data": {"name": "h"}, "transform": [{"filter": "datum.p == 5"}], "mark": {"type": "rect", "clip": true},
    "encoding": {
     "x": {"field": "a", "type": "quantitative", "title": "value", "scale": {"domain": [-37.5, 46.3], "nice": false, "zero": false}, "axis": {"values": [-20, 0, 20, 40]}},
     "x2": {"field": "b"},
     "y": {"field": "y", "type": "quantitative", "title": null, "scale": {"domain": [0, 0.0609], "nice": false}, "axis": {"values": [0, 0.02, 0.04, 0.06], "format": ".2f"}},
     "y2": {"datum": 0},
     "color": {"field": "s", "type": "nominal", "title": null, "scale": {"domain": ["Norm 1LQT_1", "Norm 1A6C_1", "1LQT_1", "1A6C_1"], "range": ["#0000ff", "#ff0000", "rgba(31,119,180,0.5)", "rgba(255,127,14,0.5)"]},
      "legend": {"orient": "top-right", "title": null, "encoding": {"symbols": {
        "shape": {"value": {"expr": "indexof(datum.value,'Norm')>=0 ? 'M-2.3,-0.2H2.3V0.2H-2.3Z' : 'M-2.3,-0.8H2.3V0.8H-2.3Z'"}},
        "opacity": {"value": 1}}}}}
    }},
   {"data": {"name": "c"}, "transform": [{"filter": "datum.p == 5"}], "mark": {"type": "line", "strokeWidth": 2, "interpolate": "monotone", "clip": true},
    "encoding": {
     "x": {"field": "x", "type": "quantitative", "title": "value"},
     "y": {"field": "y", "type": "quantitative", "title": null},
     "color": {"field": "s", "type": "nominal", "title": null}
    }}
  ]},
 {"width": 330, "height": 154, "title": {"text": "Embeddings magnitude density distribution"},
  "layer": [
   {"data": {"name": "h"}, "transform": [{"filter": "datum.p == 6"}], "mark": {"type": "rect", "clip": true},
    "encoding": {
     "x": {"field": "a", "type": "quantitative", "title": "value", "scale": {"domain": [377.8, 1671.6], "nice": false, "zero": false}, "axis": {"values": [400, 600, 800, 1000, 1200, 1400, 1600], "format": "d"}},
     "x2": {"field": "b"},
     "y": {"field": "y", "type": "quantitative", "title": null, "scale": {"domain": [0, 0.00409], "nice": false}, "axis": {"values": [0, 0.001, 0.002, 0.003, 0.004], "format": ".3f"}},
     "y2": {"datum": 0},
     "color": {"field": "s", "type": "nominal", "title": null, "scale": {"domain": ["LogNorm 1LQT_1", "LogNorm 1A6C_1", "1LQT_1", "1A6C_1"], "range": ["#0000ff", "#ff0000", "rgba(31,119,180,0.5)", "rgba(255,127,14,0.5)"]},
      "legend": {"orient": "top-right", "title": null, "encoding": {"symbols": {
        "shape": {"value": {"expr": "indexof(datum.value,'Norm')>=0 ? 'M-2.3,-0.2H2.3V0.2H-2.3Z' : 'M-2.3,-0.8H2.3V0.8H-2.3Z'"}},
        "opacity": {"value": 1}}}}}
    }},
   {"data": {"name": "c"}, "transform": [{"filter": "datum.p == 6"}], "mark": {"type": "line", "strokeWidth": 2, "interpolate": "monotone", "clip": true},
    "encoding": {
     "x": {"field": "x", "type": "quantitative", "title": "value"},
     "y": {"field": "y", "type": "quantitative", "title": null},
     "color": {"field": "s", "type": "nominal", "title": null}
    }}
  ]}
]
}
